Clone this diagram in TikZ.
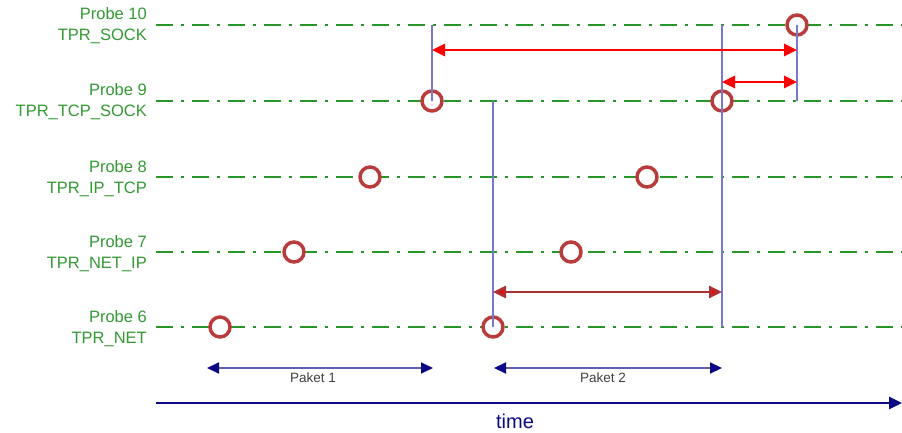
\documentclass[tikz,border=0pt]{standalone}
\usepackage{fontspec}
\setmainfont{Liberation Sans}
\usetikzlibrary{arrows.meta}
\definecolor{probegreen}{RGB}{51,153,51}
\definecolor{linegreen}{RGB}{40,150,40}
\definecolor{circred}{RGB}{185,60,60}
\definecolor{vblue}{RGB}{120,120,205}
\definecolor{darkred}{RGB}{170,50,50}
\definecolor{navyc}{RGB}{10,10,130}
\definecolor{paketline}{RGB}{95,95,180}
\definecolor{txtgray}{RGB}{64,64,64}
\begin{document}
\begin{tikzpicture}[x=1pt,y=-1pt,
  lbl/.style={anchor=base east,inner sep=0pt,text=probegreen,font=\fontsize{16.5}{20}\selectfont},
  probeline/.style={draw=linegreen,line width=2.6pt,dash pattern=on 17pt off 8pt on 2.5pt off 8.5pt},
  probe/.style={circle,draw=circred,line width=3.5pt,fill=white,minimum size=20pt,inner sep=0pt},
  vline/.style={draw=vblue,line width=2.4pt},
  redarr/.style={draw=red,line width=2.6pt,{Triangle[length=13pt,width=12pt]}-{Triangle[length=13pt,width=12pt]}},
  darkarr/.style={draw=darkred,line width=2.6pt,{Triangle[length=13pt,width=12pt,fill=red]}-{Triangle[length=13pt,width=12pt,fill=red]}},
  paketarr/.style={draw=paketline,line width=2pt,{Triangle[length=12pt,width=11pt,fill=navyc,color=navyc]}-{Triangle[length=12pt,width=11pt,fill=navyc,color=navyc]}},
  timearr/.style={draw=navyc,line width=2.6pt,-{Triangle[length=13pt,width=12pt]}},
  paketlbl/.style={anchor=base,inner sep=0pt,text=txtgray,font=\fontsize{13.5}{16}\selectfont},
]
\useasboundingbox (0,0) rectangle (902,433);

% probe lines
\foreach \n/\y in {10/25,9/101,8/177,7/252,6/327}{
  \coordinate (s\n) at (156,\y);
  \coordinate (e\n) at (902,\y);
  \draw[probeline] (s\n) -- (e\n);
}

% labels
\node[lbl] (t10a) at (147,20) {Probe 10};
\node[lbl] (t10b) at (147,41) {TPR\_SOCK};
\node[lbl] (t9a) at (147,96) {Probe 9};
\node[lbl] (t9b) at (147,117) {TPR\_TCP\_SOCK};
\node[lbl] (t8a) at (147,172) {Probe 8};
\node[lbl] (t8b) at (147,193) {TPR\_IP\_TCP};
\node[lbl] (t7a) at (147,247) {Probe 7};
\node[lbl] (t7b) at (147,268) {TPR\_NET\_IP};
\node[lbl] (t6a) at (147,322) {Probe 6};
\node[lbl] (t6b) at (147,343) {TPR\_NET};

% probe circles
\node[probe] (c10) at (797,25) {};
\node[probe] (c9a) at (432,101) {};
\node[probe] (c9b) at (722,101) {};
\node[probe] (c8a) at (370,177) {};
\node[probe] (c8b) at (647,177) {};
\node[probe] (c7a) at (294,252) {};
\node[probe] (c7b) at (571,252) {};
\node[probe] (c6a) at (220,327) {};
\node[probe] (c6b) at (493,327) {};

% vertical markers
\coordinate (v1t) at (432,25);
\coordinate (v2t) at (722,25);
\coordinate (v2b) at (722,327);
\coordinate (v3b) at (797,101);
\coordinate (v4t) at (493,101);
\draw[vline] (v1t) -- (c9a.center);
\draw[vline] (v2t) -- (v2b);
\draw[vline] (c10.center) -- (v3b);
\draw[vline] (v4t) -- (c6b.center);

% red arrows
\coordinate (r1a) at (432,50);
\coordinate (r1b) at (797,50);
\coordinate (r2a) at (722,82);
\coordinate (r2b) at (797,82);
\draw[redarr] (r1a) -- (r1b);
\draw[redarr] (r2a) -- (r2b);
\coordinate (d1a) at (493,292);
\coordinate (d1b) at (722,292);
\draw[darkarr] (d1a) -- (d1b);

% packet arrows
\coordinate (p1a) at (207,368);
\coordinate (p1b) at (433,368);
\coordinate (p2a) at (494,368);
\coordinate (p2b) at (722,368);
\draw[paketarr] (p1a) -- (p1b);
\draw[paketarr] (p2a) -- (p2b);
\node[paketlbl] (k1) at (313,382) {Paket 1};
\node[paketlbl] (k2) at (603,382) {Paket 2};

% time axis
\coordinate (ta) at (156,403);
\coordinate (tb) at (902,403);
\draw[timearr] (ta) -- (tb);
\node[anchor=base,inner sep=0pt,text=navyc,font=\fontsize{20}{24}\selectfont] (time) at (515,428) {time};
\end{tikzpicture}
\end{document}
